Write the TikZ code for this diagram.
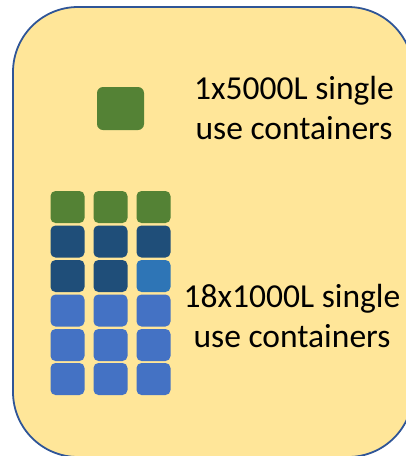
\documentclass[tikz,border=0pt]{standalone}
\usepackage{fontspec}
\setmainfont{Carlito}
\definecolor{panelfill}{HTML}{FFE699}
\definecolor{panelline}{HTML}{2F5597}
\definecolor{tankgreen}{HTML}{548235}
\definecolor{tankdark}{HTML}{1F4E79}
\definecolor{tankmid}{HTML}{2E75B6}
\definecolor{tankblue}{HTML}{4472C4}
\tikzset{
	bigtank/.style={minimum width=47pt, minimum height=43pt, inner sep=0pt, rounded corners=6pt},
	tank/.style={minimum width=34pt, minimum height=32pt, inner sep=0pt, rounded corners=5pt},
	tanktext/.style={align=center, inner sep=0pt, font=\fontsize{33.5}{40}\selectfont}
}
\begin{document}
\begin{tikzpicture}[x=1pt, y=-1pt]
	%frame
	\useasboundingbox (0,0) rectangle (406,456);
	\clip (0,0) rectangle (406,456);
	\draw[panelline, line width=1.8pt, fill=panelfill, rounded corners=65pt] (13,7) rectangle (413,457);
	%
	%5000L
	\node[bigtank, fill=tankgreen] (big) at (120.5,108.5) {};
	\node[tanktext] (bigtxt) at (294,108) {1x5000L single\\use containers};
	%
	%1000L row 1
	\node[tank, fill=tankgreen] (t11) at (67.5,207) {};
	\node[tank, fill=tankgreen] (t12) at (110.5,207) {};
	\node[tank, fill=tankgreen] (t13) at (153.5,207) {};
	%row 2
	\node[tank, fill=tankdark] (t21) at (67.5,241.5) {};
	\node[tank, fill=tankdark] (t22) at (110.5,241.5) {};
	\node[tank, fill=tankdark] (t23) at (153.5,241.5) {};
	%row 3
	\node[tank, fill=tankdark] (t31) at (67.5,276) {};
	\node[tank, fill=tankdark] (t32) at (110.5,276) {};
	\node[tank, fill=tankmid] (t33) at (153.5,276) {};
	%row 4
	\node[tank, fill=tankblue] (t41) at (67.5,310.5) {};
	\node[tank, fill=tankblue] (t42) at (110.5,310.5) {};
	\node[tank, fill=tankblue] (t43) at (153.5,310.5) {};
	%row 5
	\node[tank, fill=tankblue] (t51) at (67.5,345) {};
	\node[tank, fill=tankblue] (t52) at (110.5,345) {};
	\node[tank, fill=tankblue] (t53) at (153.5,345) {};
	%row 6
	\node[tank, fill=tankblue] (t61) at (67.5,379) {};
	\node[tank, fill=tankblue] (t62) at (110.5,379) {};
	\node[tank, fill=tankblue] (t63) at (153.5,379) {};
	%
	\node[tanktext] (smalltxt) at (292,316) {18x1000L single\\use containers};
\end{tikzpicture}
\end{document}
